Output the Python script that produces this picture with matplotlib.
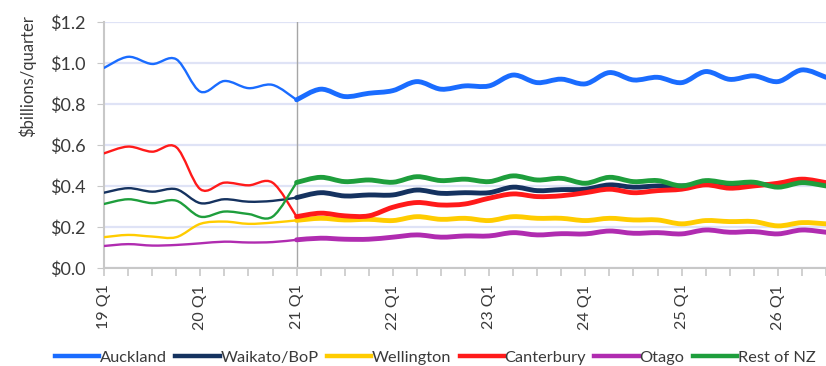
import numpy as np
import matplotlib
matplotlib.use("Agg")
from matplotlib import pyplot as plt
from matplotlib.path import Path
from matplotlib.patches import PathPatch
from matplotlib.lines import Line2D

plt.rcParams['font.family'] = ['Lato', 'DejaVu Sans']

quarters = ['19 Q1', '19 Q2', '19 Q3', '19 Q4', '20 Q1', '20 Q2', '20 Q3', '20 Q4',
            '21 Q1', '21 Q2', '21 Q3', '21 Q4', '22 Q1', '22 Q2', '22 Q3', '22 Q4',
            '23 Q1', '23 Q2', '23 Q3', '23 Q4', '24 Q1', '24 Q2', '24 Q3', '24 Q4',
            '25 Q1', '25 Q2', '25 Q3', '25 Q4', '26 Q1', '26 Q2', '26 Q3']
forecast_start = 8  # 21 Q1

auckland = [0.976, 1.030, 0.995, 1.018, 0.860, 0.912, 0.877, 0.893, 0.820, 0.872,
            0.836, 0.852, 0.865, 0.909, 0.872, 0.888, 0.888, 0.941, 0.904, 0.921,
            0.898, 0.953, 0.917, 0.930, 0.904, 0.958, 0.920, 0.937, 0.909, 0.966, 0.930]
waikato = [0.367, 0.389, 0.372, 0.384, 0.316, 0.335, 0.323, 0.327, 0.343, 0.367,
           0.351, 0.356, 0.356, 0.380, 0.364, 0.367, 0.367, 0.394, 0.377, 0.382,
           0.384, 0.405, 0.394, 0.400, 0.400, 0.408, 0.400, 0.408, 0.405, 0.418, 0.408]
wellington = [0.150, 0.161, 0.153, 0.150, 0.215, 0.226, 0.215, 0.221, 0.232, 0.242,
              0.234, 0.237, 0.231, 0.250, 0.237, 0.242, 0.231, 0.250, 0.242, 0.242,
              0.231, 0.242, 0.234, 0.234, 0.215, 0.231, 0.226, 0.226, 0.205, 0.221, 0.215]
canterbury = [0.559, 0.592, 0.567, 0.589, 0.384, 0.416, 0.403, 0.416, 0.250, 0.267,
              0.254, 0.254, 0.296, 0.319, 0.307, 0.312, 0.340, 0.361, 0.348, 0.352,
              0.367, 0.384, 0.367, 0.377, 0.384, 0.405, 0.389, 0.400, 0.413, 0.433, 0.416]
otago = [0.107, 0.116, 0.109, 0.112, 0.120, 0.128, 0.124, 0.126, 0.137, 0.145,
         0.140, 0.140, 0.150, 0.161, 0.150, 0.156, 0.156, 0.172, 0.161, 0.167,
         0.166, 0.180, 0.169, 0.172, 0.166, 0.185, 0.174, 0.177, 0.166, 0.185, 0.174]
rest_nz = [0.312, 0.335, 0.316, 0.328, 0.250, 0.275, 0.263, 0.250, 0.417, 0.442,
           0.421, 0.429, 0.418, 0.445, 0.426, 0.433, 0.421, 0.449, 0.429, 0.437,
           0.413, 0.442, 0.421, 0.426, 0.400, 0.426, 0.413, 0.418, 0.394, 0.416, 0.400]

series = [
    ('Auckland', auckland, '#1a6cff'),
    ('Waikato/BoP', waikato, '#15325f'),
    ('Wellington', wellington, '#ffcc00'),
    ('Canterbury', canterbury, '#ff1a1a'),
    ('Otago', otago, '#b02cb0'),
    ('Rest of NZ', rest_nz, '#1e9e3c'),
]


def smooth_path(xs, ys):
    # Bezier curve through every point, like a spreadsheet "smoothed line"
    pts = np.column_stack([xs, ys])
    verts = [pts[0]]
    codes = [Path.MOVETO]
    n = len(pts)
    for i in range(n - 1):
        p0 = pts[max(i - 1, 0)]
        p1 = pts[i]
        p2 = pts[i + 1]
        p3 = pts[min(i + 2, n - 1)]
        c1 = p1 + (p2 - p0) / 6.0
        c2 = p2 - (p3 - p1) / 6.0
        verts += [c1, c2, p2]
        codes += [Path.CURVE4] * 3
    return Path(verts, codes)


fig = plt.figure(figsize=(8.26, 3.66), dpi=100)
ax = fig.add_axes([0.126, 0.268, 0.874, 0.672])

x = np.arange(len(quarters))
for name, vals, color in series:
    vals = np.array(vals)
    hist = smooth_path(x[:forecast_start + 1], vals[:forecast_start + 1])
    fcst = smooth_path(x[forecast_start:], vals[forecast_start:])
    ax.add_patch(PathPatch(hist, fill=False, edgecolor=color, lw=1.7,
                           capstyle='round', joinstyle='round', zorder=3))
    ax.add_patch(PathPatch(fcst, fill=False, edgecolor=color, lw=3.5,
                           capstyle='round', joinstyle='round', zorder=3))

ax.axvline(forecast_start, color='#a6a6a6', lw=1.0, zorder=2)

ax.set_xlim(0, len(quarters) - 1)
ax.set_ylim(0, 1.2)
ax.set_yticks(np.arange(0, 1.21, 0.2))
ax.set_yticklabels(['${:.1f}'.format(v) for v in np.arange(0, 1.21, 0.2)])
ax.yaxis.grid(True, color='#dfe3f6', lw=1.6)
ax.set_axisbelow(True)

ax.set_xticks(x[::4])
ax.set_xticklabels(quarters[::4], rotation=90)
ax.set_xticks(x, minor=True)

for side in ['top', 'right']:
    ax.spines[side].set_visible(False)
for side in ['left', 'bottom']:
    ax.spines[side].set_color('#c8c8c8')
    ax.spines[side].set_linewidth(1.5)

ax.tick_params(axis='y', length=5, color='#c8c8c8', labelsize=13,
               labelcolor='#3a3a3a', pad=8)
ax.tick_params(axis='x', which='both', length=6, color='#c8c8c8', width=1.2,
               labelsize=11.5, labelcolor='#3a3a3a', pad=6)
ax.set_ylabel('$billions/quarter', fontsize=12, color='#3a3a3a')
ax.yaxis.set_label_coords(-0.094, 0.78)

handles = [Line2D([], [], color=c, lw=3.2) for _, _, c in series]
fig.legend(handles, [s[0] for s in series], loc='center', ncol=6,
           bbox_to_anchor=(0.527, 0.022), frameon=False, fontsize=11.8,
           handlelength=2.7, handletextpad=0.05, columnspacing=0.5,
           labelcolor='#3a3a3a')

fig.savefig('out.png', dpi=100)
